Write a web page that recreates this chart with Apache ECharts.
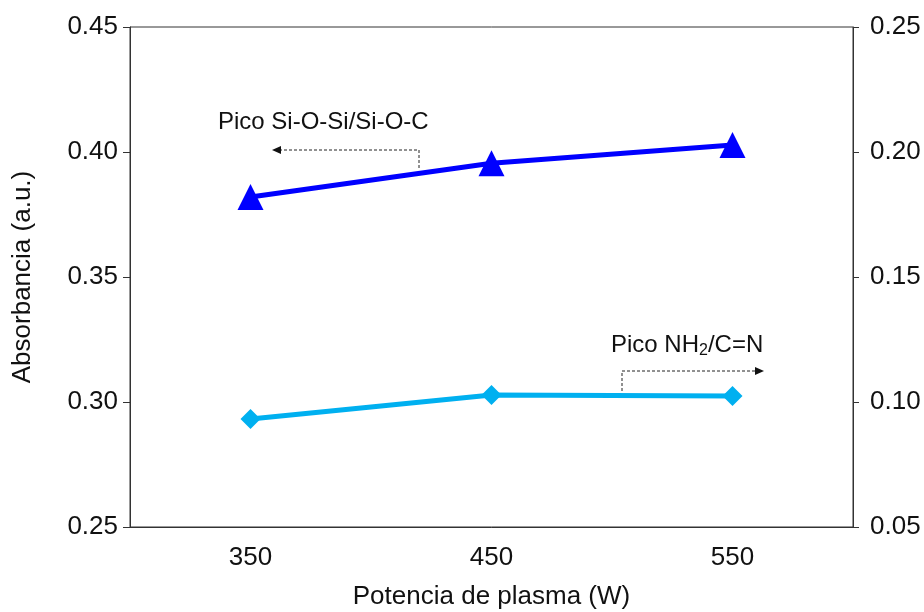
<!DOCTYPE html>
<html>
<head>
<meta charset="utf-8">
<script src="https://cdn.jsdelivr.net/npm/echarts@6/dist/echarts.min.js"></script>
<style>
  html, body { margin: 0; padding: 0; background: #fff; }
  #chart { width: 924px; height: 612px; }
</style>
</head>
<body>
<div id="chart"></div>
<script>
var powers = ['350', '450', '550'];
var siOSi = [0.382, 0.3955, 0.4028];      // left axis
var nh2CN = [0.0932, 0.1028, 0.1024];      // right axis
var leftTicks = [0.25, 0.45, 0.05];
var rightTicks = [0.05, 0.25, 0.05];

var font = 'Liberation Sans, Arial, sans-serif';
var axisColor = '#333';

var myChart = echarts.init(document.getElementById('chart'));

var option = {
  animation: false,
  grid: {
    left: 130, right: 71, top: 27, bottom: 85,
    outerBoundsMode: 'none',
    show: true, borderColor: axisColor, borderWidth: 1
  },
  xAxis: {
    type: 'category',
    data: powers,
    boundaryGap: true,
    name: 'Potencia de plasma (W)',
    nameLocation: 'middle',
    nameGap: 57,
    nameTextStyle: { fontFamily: font, fontSize: 26, color: '#111' },
    axisLine: { lineStyle: { color: axisColor } },
    axisTick: { alignWithLabel: true, length: 8, lineStyle: { color: axisColor } },
    axisLabel: { fontFamily: font, fontSize: 26, color: '#111', margin: 18 },
    splitLine: { show: false }
  },
  yAxis: [{
    type: 'value',
    min: leftTicks[0], max: leftTicks[1], interval: leftTicks[2],
    name: 'Absorbancia (a.u.)',
    nameLocation: 'middle',
    nameGap: 94,
    nameTextStyle: { fontFamily: font, fontSize: 26, color: '#111' },
    axisLine: { show: true, lineStyle: { color: axisColor } },
    axisTick: { show: true, length: 7, lineStyle: { color: axisColor } },
    axisLabel: { fontFamily: font, fontSize: 26, color: '#111', margin: 12,
      formatter: function (v) { return v.toFixed(2); } },
    splitLine: { show: false }
  }, {
    type: 'value',
    position: 'right',
    min: rightTicks[0], max: rightTicks[1], interval: rightTicks[2],
    axisLine: { show: true, lineStyle: { color: axisColor } },
    axisTick: { show: true, length: 6, lineStyle: { color: axisColor } },
    axisLabel: { fontFamily: font, fontSize: 26, color: '#111', margin: 17,
      formatter: function (v) { return v.toFixed(2); } },
    splitLine: { show: false }
  }],
  series: [{
    name: 'Pico Si-O-Si/Si-O-C',
    type: 'line',
    yAxisIndex: 0,
    data: siOSi,
    symbol: 'triangle',
    symbolSize: 26,
    lineStyle: { color: '#0000FF', width: 5 },
    itemStyle: { color: '#0000FF' }
  }, {
    name: 'Pico NH2/C=N',
    type: 'line',
    yAxisIndex: 1,
    data: nh2CN,
    symbol: 'diamond',
    symbolSize: 20,
    lineStyle: { color: '#00B0F0', width: 5 },
    itemStyle: { color: '#00B0F0' }
  }],
  graphic: [
    // Si-O-Si annotation
    { type: 'text', left: 218, top: 110,
      style: { text: 'Pico Si-O-Si/Si-O-C', font: '24px ' + font, fill: '#111' } },
    { type: 'polyline', shape: { points: [[419, 168], [419, 150], [280, 150]] },
      style: { stroke: '#222', lineWidth: 1, lineDash: [3, 2], fill: null } },
    { type: 'polygon', shape: { points: [[272, 150], [281, 146], [281, 154]] },
      style: { fill: '#111' } },
    // NH2/C=N annotation
    { type: 'text', left: 611, top: 333,
      style: { rich: { n: { font: '24px ' + font, fill: '#111' },
                       s: { font: '16px ' + font, fill: '#111', verticalAlign: 'bottom', padding: [12, 0, 0, 0] } },
               text: '{n|Pico NH}{s|2}{n|/C=N}' } },
    { type: 'polyline', shape: { points: [[622, 391], [622, 371], [755, 371]] },
      style: { stroke: '#222', lineWidth: 1, lineDash: [3, 2], fill: null } },
    { type: 'polygon', shape: { points: [[764, 371], [755, 367], [755, 375]] },
      style: { fill: '#111' } }
  ]
};

myChart.setOption(option);
</script>
</body>
</html>
